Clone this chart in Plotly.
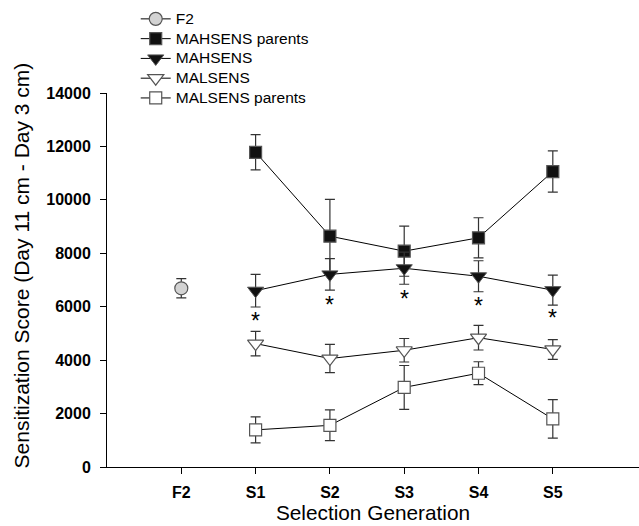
import plotly.graph_objects as go

gens = ["F2", "S1", "S2", "S3", "S4", "S5"]
sel = ["S1", "S2", "S3", "S4", "S5"]

f2_val = [6690]
f2_err = [360]

mahp_val = [11780, 8640, 8080, 8580, 11060]
mahp_err = [660, 1380, 940, 750, 770]

mah_val = [6600, 7210, 7440, 7140, 6620]
mah_err = [610, 590, 600, 580, 560]

mal_val = [4620, 4060, 4370, 4840, 4400]
mal_err = [460, 530, 440, 460, 370]

malp_val = [1390, 1560, 2980, 3510, 1800]
malp_err = [490, 575, 820, 430, 720]

star_y = [5530, 6150, 6375, 6090, 5650]

y_ticks = [0, 2000, 4000, 6000, 8000, 10000, 12000, 14000]
y_ticktext = [str(v) for v in y_ticks]

FONT = "Arial, Liberation Sans, sans-serif"
EB = "#333333"
EDGE = "#555555"

def err(e):
    return dict(type="data", array=e, visible=True, color=EB, thickness=1.2, width=5)

def lname(s):
    return '<span style="font-size:15.5px">' + s + '</span>'

fig = go.Figure()
fig.add_trace(go.Scatter(x=["F2"], y=f2_val, error_y=err(f2_err), mode="lines+markers",
                         name=lname("F2"), line=dict(color="black", width=1),
                         marker=dict(symbol="circle", size=13, color="#d3d3d3",
                                     line=dict(color=EDGE, width=1.2))))
fig.add_trace(go.Scatter(x=sel, y=mahp_val, error_y=err(mahp_err), mode="lines+markers",
                         name=lname("MAHSENS parents"), line=dict(color="black", width=1),
                         marker=dict(symbol="square", size=12, color="#111111",
                                     line=dict(color=EDGE, width=1.2))))
fig.add_trace(go.Scatter(x=sel, y=mah_val, error_y=err(mah_err), mode="lines+markers",
                         name=lname("MAHSENS"), line=dict(color="black", width=1),
                         marker=dict(symbol="triangle-down", size=14, color="#111111",
                                     line=dict(color=EDGE, width=1))))
fig.add_trace(go.Scatter(x=sel, y=mal_val, error_y=err(mal_err), mode="lines+markers",
                         name=lname("MALSENS"), line=dict(color="black", width=1),
                         marker=dict(symbol="triangle-down", size=14, color="white",
                                     line=dict(color=EDGE, width=1.2))))
fig.add_trace(go.Scatter(x=sel, y=malp_val, error_y=err(malp_err), mode="lines+markers",
                         name=lname("MALSENS parents"), line=dict(color="black", width=1),
                         marker=dict(symbol="square", size=12, color="white",
                                     line=dict(color=EDGE, width=1.2))))

for g, sy in zip(sel, star_y):
    fig.add_annotation(x=g, y=sy, text="*", showarrow=False, yshift=-2,
                       font=dict(family=FONT, size=23, color="black"))

fig.add_annotation(xref="paper", yref="paper", x=-0.161, y=0.54, xanchor="center", yanchor="middle",
                   text="Sensitization Score (Day 11 cm - Day 3 cm)", textangle=-90, showarrow=False,
                   font=dict(family=FONT, size=21, color="black"))

fig.update_layout(
    width=639, height=526,
    margin=dict(l=107, r=0, t=93, b=59),
    paper_bgcolor="white", plot_bgcolor="white",
    font=dict(family=FONT, color="black"),
    showlegend=True,
    legend=dict(x=0.054, y=1.238, xanchor="left", yanchor="top",
                font=dict(family=FONT, size=12.9, color="black"),
                tracegroupgap=0, bgcolor="rgba(0,0,0,0)", itemwidth=30),
    xaxis=dict(type="category", categoryorder="array", categoryarray=gens,
               range=[-1, 6.16], showline=True, linecolor="black", linewidth=1,
               ticks="outside", ticklen=6, tickcolor="black", showgrid=False, zeroline=False,
               ticklabelstandoff=5,
               tickfont=dict(family=FONT, size=16, color="black", weight="bold"),
               title=dict(text="Selection Generation", font=dict(family=FONT, size=20.8), standoff=4)),
    yaxis=dict(range=[0, 14000], tickvals=y_ticks, ticktext=y_ticktext,
               showline=True, linecolor="black", linewidth=1,
               ticks="outside", ticklen=6, tickcolor="black", showgrid=False, zeroline=False,
               ticklabelstandoff=6,
               tickfont=dict(family=FONT, size=16, color="black", weight="bold")),
)

fig.write_html("out.html")
